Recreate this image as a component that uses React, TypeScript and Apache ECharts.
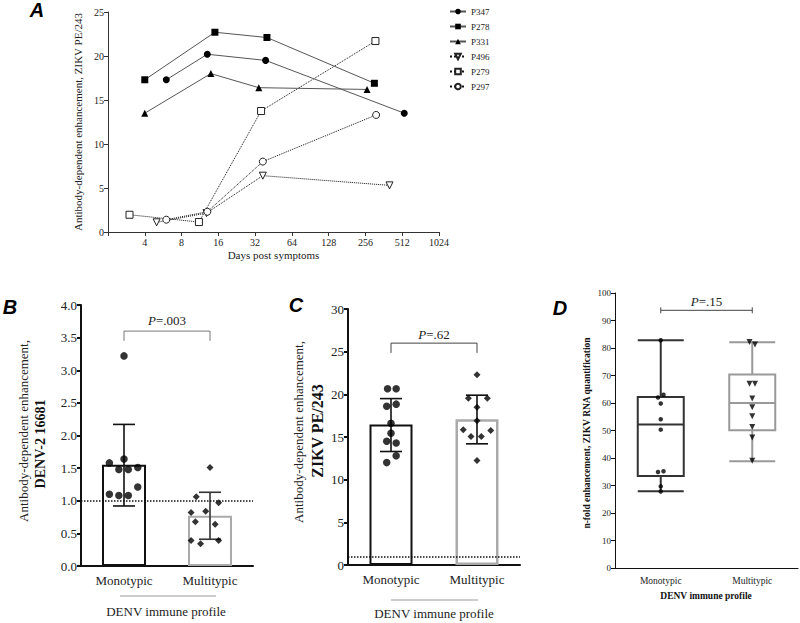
import React, { useEffect, useRef } from 'react';
import * as echarts from 'echarts';

// ---------- Panel A data ----------
const patients = ['P347', 'P278', 'P331', 'P496', 'P279', 'P297'];
const p347Days = [6, 13, 39, 532];
const p347Vals = [17.3, 20.2, 19.5, 13.5];
const p278Days = [4, 15, 40, 303];
const p278Vals = [17.3, 22.7, 22.1, 16.9];
const p331Days = [4, 13.9, 34.3, 264];
const p331Vals = [13.5, 18.0, 16.4, 16.2];
const p496Days = [5, 12.8, 37, 403];
const p496Vals = [1.1, 2.15, 6.4, 5.3];
const p279Days = [3, 11.1, 35.8, 309];
const p279Vals = [1.96, 1.13, 13.75, 21.7];
const p297Days = [6, 13, 37, 313];
const p297Vals = [1.4, 2.3, 8.0, 13.3];
const xTicksA = [4, 8, 16, 32, 64, 128, 256, 512, 1024];

// ---------- Panels B, C, D data ----------
const groups = ['Monotypic', 'Multitypic'];

const bMono = [1.58, 1.64, 1.48, 1.48, 1.51, 1.10, 1.08, 1.08, 1.21, 3.22];
const bMonoJitter = [-0.17, 0, -0.06, 0.05, 0.16, -0.17, -0.06, 0.05, 0.16, 0];
const bMulti = [1.51, 1.06, 0.97, 0.82, 0.84, 0.68, 0.64, 0.39, 0.34, 0.39];
const bMultiJitter = [0, -0.16, 0.1, -0.22, -0.05, -0.17, 0.06, -0.22, -0.11, 0.1];
const bMeans = [1.55, 0.77];
const bErrLow = [0.92, 0.41];
const bErrHigh = [2.17, 1.13];

const cMono = [20.65, 20.65, 18.6, 18.85, 16.6, 15.45, 14.5, 14.3, 12.0, 12.8];
const cMonoJitter = [-0.04, 0.06, -0.05, 0.06, 0, 0, -0.05, 0.06, -0.05, 0.06];
const cMulti = [22.3, 19.55, 19.55, 18.5, 16.9, 15.85, 15.75, 15.05, 15.05, 12.25];
const cMultiJitter = [0, -0.1, 0.12, 0, 0, -0.16, 0.16, -0.07, 0.05, 0];
const cMeans = [16.46, 17.09];
const cErrLow = [13.3, 14.2];
const cErrHigh = [19.5, 19.9];

const dMono = [82.8, 62.0, 63.0, 59.8, 54.1, 50.3, 34.9, 35.2, 29.7, 27.8];
const dMonoJitter = [0, -0.03, 0.03, 0, 0, 0, -0.03, 0.03, 0, 0];
const dMulti = [82.2, 81.3, 67.0, 67.0, 61.6, 58.5, 55.2, 51.3, 47.5, 39.0];
const dMultiJitter = [-0.03, 0.03, -0.03, 0.03, 0, 0, 0, 0, 0, 0];
const dMonoBox = [27.9, 33.45, 52.2, 62.2, 82.8];
const dMultiBox = [38.8, 50.06, 60.0, 70.4, 82.06];

const pB = '=.003';
const pC = '=.62';
const pD = '=.15';

const SERIF = '"Liberation Serif", "Times New Roman", serif';
const SANS = '"Liberation Sans", Arial, sans-serif';

function errorBarSeries(xi: number, yi: number, lows: number[], highs: number[], colors: string[], half: number) {
  return {
    type: 'custom',
    xAxisIndex: xi,
    yAxisIndex: yi,
    z: 4,
    silent: true,
    encode: { x: 0, y: [1, 2] },
    data: lows.map((l, i) => [i, l, highs[i]]),
    renderItem: (params: any, api: any) => {
      const idx = api.value(0);
      const lo = api.coord([idx, api.value(1)]);
      const hi = api.coord([idx, api.value(2)]);
      const stroke = colors[params.dataIndex];
      const st = { stroke, lineWidth: 1.6 };
      return {
        type: 'group',
        children: [
          { type: 'line', shape: { x1: lo[0], y1: lo[1], x2: hi[0], y2: hi[1] }, style: st },
          { type: 'line', shape: { x1: lo[0] - half, y1: lo[1], x2: lo[0] + half, y2: lo[1] }, style: st },
          { type: 'line', shape: { x1: hi[0] - half, y1: hi[1], x2: hi[0] + half, y2: hi[1] }, style: st },
        ],
      };
    },
  };
}

function bracketSeries(xi: number, yi: number, yLine: number, yLeg: number, yText: number, ptext: string, fontSize: number, color: string, capped: boolean) {
  return {
    type: 'custom',
    xAxisIndex: xi,
    yAxisIndex: yi,
    z: 5,
    silent: true,
    data: [[0, yLine]],
    renderItem: (params: any, api: any) => {
      const a = api.coord([0, yLine]);
      const b = api.coord([1, yLine]);
      const leg = api.coord([0, yLeg]);
      const t = api.coord([0, yText]);
      const st = { stroke: color, fill: null, lineWidth: 1 };
      const children: any[] = [];
      if (capped) {
        children.push({ type: 'line', shape: { x1: a[0], y1: a[1], x2: b[0], y2: b[1] }, style: st });
        children.push({ type: 'line', shape: { x1: a[0], y1: a[1] - 3, x2: a[0], y2: a[1] + 3 }, style: st });
        children.push({ type: 'line', shape: { x1: b[0], y1: b[1] - 3, x2: b[0], y2: b[1] + 3 }, style: st });
      } else {
        children.push({
          type: 'polyline',
          shape: { points: [[a[0], leg[1]], [a[0], a[1]], [b[0], b[1]], [b[0], leg[1]]] },
          style: st,
        });
      }
      children.push({
        type: 'text',
        x: (a[0] + b[0]) / 2,
        y: t[1],
        style: {
          text: '{i|P}' + ptext,
          align: 'center',
          verticalAlign: 'middle',
          fill: '#222',
          fontFamily: SERIF,
          fontSize,
          rich: { i: { fontStyle: 'italic', fontFamily: SERIF, fontSize, fill: '#222' } },
        },
      });
      return { type: 'group', children };
    },
  };
}

export default function App() {
  const ref = useRef<HTMLDivElement>(null);

  useEffect(() => {
    if (!ref.current) return;
    document.body.style.margin = '0';
    const chart = echarts.init(ref.current, undefined, { renderer: 'svg' });

    const aDays = [p347Days, p278Days, p331Days, p496Days, p279Days, p297Days];
    const aVals = [p347Vals, p278Vals, p331Vals, p496Vals, p279Vals, p297Vals];
    const aSymbols = ['circle', 'rect', 'triangle', 'triangle', 'rect', 'circle'];
    const aRotate = [0, 0, 0, 180, 0, 0];
    const aHollow = [false, false, false, true, true, true];
    const aSize = [7, 7, 7, 7, 7, 7];

    const lineSeries = patients.map((name, k) => ({
      name,
      type: 'line',
      xAxisIndex: 0,
      yAxisIndex: 0,
      data: aDays[k].map((d, i) => [d, aVals[k][i]]),
      symbol: aSymbols[k],
      symbolRotate: aRotate[k],
      symbolSize: aSize[k],
      showAllSymbol: true,
      z: aHollow[k] ? 3 : 4,
      lineStyle: aHollow[k]
        ? { color: '#111', width: 1, type: 'dotted' }
        : { color: '#555', width: 1, type: 'solid' },
      itemStyle: aHollow[k]
        ? { color: '#fff', borderColor: '#222', borderWidth: 1 }
        : { color: '#000', borderColor: '#000', borderWidth: 0 },
      emphasis: { disabled: true },
    }));

    const axisTxt = (size: number) => ({ fontFamily: SERIF, fontSize: size, color: '#222' });

    const catAxis = (gi: number, lw: number, fs: number, margin: number) => ({
      gridIndex: gi,
      type: 'category',
      data: groups,
      axisLine: { onZero: false, lineStyle: { color: '#111', width: lw } },
      axisTick: { alignWithLabel: true, length: 5, lineStyle: { color: '#111', width: lw } },
      axisLabel: { ...axisTxt(fs), margin },
      splitLine: { show: false },
    });
    const hiddenAxis = (gi: number) => ({
      gridIndex: gi, type: 'value', min: -0.5, max: 1.5, show: false,
      axisLine: { show: false, onZero: false }, splitLine: { show: false },
    });
    const valAxis = (gi: number, max: number, interval: number, lw: number, fs: number, fmt?: (v: number) => string) => ({
      gridIndex: gi,
      type: 'value',
      min: 0,
      max,
      interval,
      axisLine: { show: true, onZero: false, lineStyle: { color: '#111', width: lw } },
      axisTick: { show: true, length: 4, lineStyle: { color: '#111', width: lw } },
      axisLabel: { ...axisTxt(fs), margin: 4, formatter: fmt },
      splitLine: { show: false },
    });

    const option: any = {
      animation: false,
      backgroundColor: '#fff',
      grid: [
        { left: 108, top: 12, width: 331, height: 220 },
        { left: 81, top: 305, width: 172, height: 261 },
        { left: 348, top: 309, width: 172, height: 256 },
        { left: 615, top: 293, width: 183, height: 275 },
      ],
      legend: {
        data: patients,
        orient: 'vertical',
        left: 444,
        top: 2,
        itemWidth: 16,
        itemHeight: 7,
        itemGap: 6,
        textStyle: { fontFamily: SERIF, fontSize: 9, color: '#222' },
        selectedMode: false,
      },
      xAxis: [
        {
          gridIndex: 0,
          type: 'log',
          logBase: 2,
          min: 2,
          max: 1024,
          splitNumber: 10,
          axisLine: { onZero: false, lineStyle: { color: '#333', width: 1 } },
          axisTick: { show: true, length: 4, lineStyle: { color: '#333' } },
          axisLabel: {
            ...axisTxt(10),
            margin: 5,
            formatter: (v: number) => {
              const r = Math.round(v);
              return xTicksA.indexOf(r) >= 0 ? String(r) : '';
            },
          },
          splitLine: { show: false },
          name: 'Days post symptoms',
          nameLocation: 'middle',
          nameGap: 17,
          nameTextStyle: axisTxt(11),
        },
        catAxis(1, 2, 13, 8),
        hiddenAxis(1),
        catAxis(2, 2, 13, 8),
        hiddenAxis(2),
        catAxis(3, 1, 9.5, 8),
        hiddenAxis(3),
      ],
      yAxis: [
        {
          gridIndex: 0,
          type: 'value',
          min: 0,
          max: 25,
          interval: 5,
          axisLine: { show: true, onZero: false, lineStyle: { color: '#333', width: 1 } },
          axisTick: { show: true, length: 4, lineStyle: { color: '#333' } },
          axisLabel: { ...axisTxt(10), margin: 4 },
          splitLine: { show: false },
        },
        valAxis(1, 4, 0.5, 2, 13, (v: number) => v.toFixed(1)),
        valAxis(2, 30, 5, 2, 13),
        valAxis(3, 100, 10, 1, 9),
      ],
      series: [
        ...lineSeries,
        // Panel B
        {
          type: 'bar',
          xAxisIndex: 1,
          yAxisIndex: 1,
          barWidth: 44,
          z: 2,
          silent: true,
          data: bMeans.map((v, i) => ({
            value: v,
            itemStyle: { color: '#fff', borderColor: i === 0 ? '#111' : '#aaa', borderWidth: 2 },
          })),
          markLine: {
            silent: true,
            symbol: 'none',
            label: { show: false },
            lineStyle: { color: '#111', type: 'dotted', width: 1.5 },
            data: [{ yAxis: 1 }],
          },
        },
        errorBarSeries(1, 1, bErrLow, bErrHigh, ['#111', '#333'], 11),
        {
          type: 'scatter',
          xAxisIndex: 2,
          yAxisIndex: 1,
          z: 6,
          symbol: 'circle',
          symbolSize: 7.5,
          itemStyle: { color: '#000' },
          data: bMono.map((v, i) => [0 + bMonoJitter[i], v]),
        },
        {
          type: 'scatter',
          xAxisIndex: 2,
          yAxisIndex: 1,
          z: 6,
          symbol: 'diamond',
          symbolSize: 7,
          itemStyle: { color: '#000' },
          data: bMulti.map((v, i) => [1 + bMultiJitter[i], v]),
        },
        bracketSeries(1, 1, 3.6, 3.45, 3.77, pB, 13, '#777', false),
        // Panel C
        {
          type: 'bar',
          xAxisIndex: 3,
          yAxisIndex: 2,
          barWidth: 43,
          z: 2,
          silent: true,
          data: cMeans.map((v, i) => ({
            value: v,
            itemStyle: { color: '#fff', borderColor: i === 0 ? '#111' : '#aaa', borderWidth: i === 0 ? 2 : 2.5 },
          })),
          markLine: {
            silent: true,
            symbol: 'none',
            label: { show: false },
            lineStyle: { color: '#111', type: 'dotted', width: 1.5 },
            data: [{ yAxis: 1 }],
          },
        },
        errorBarSeries(3, 2, cErrLow, cErrHigh, ['#111', '#111'], 11),
        {
          type: 'scatter',
          xAxisIndex: 4,
          yAxisIndex: 2,
          z: 6,
          symbol: 'circle',
          symbolSize: 7.5,
          itemStyle: { color: '#000' },
          data: cMono.map((v, i) => [0 + cMonoJitter[i], v]),
        },
        {
          type: 'scatter',
          xAxisIndex: 4,
          yAxisIndex: 2,
          z: 6,
          symbol: 'diamond',
          symbolSize: 7,
          itemStyle: { color: '#000' },
          data: cMulti.map((v, i) => [1 + cMultiJitter[i], v]),
        },
        bracketSeries(3, 2, 26.0, 24.85, 27.0, pC, 13, '#444', false),
        // Panel D
        {
          type: 'boxplot',
          xAxisIndex: 5,
          yAxisIndex: 3,
          boxWidth: [46, 46],
          silent: true,
          z: 2,
          itemStyle: { color: '#fff', borderWidth: 2 },
          data: [
            { value: dMonoBox, itemStyle: { color: '#fff', borderColor: '#333', borderWidth: 2 } },
            { value: dMultiBox, itemStyle: { color: '#fff', borderColor: '#999', borderWidth: 2 } },
          ],
        },
        {
          type: 'scatter',
          xAxisIndex: 6,
          yAxisIndex: 3,
          z: 6,
          symbol: 'circle',
          symbolSize: 4.5,
          itemStyle: { color: '#000' },
          data: dMono.map((v, i) => [0 + dMonoJitter[i], v]),
        },
        {
          type: 'scatter',
          xAxisIndex: 6,
          yAxisIndex: 3,
          z: 6,
          symbol: 'triangle',
          symbolRotate: 180,
          symbolSize: 6,
          itemStyle: { color: '#000' },
          data: dMulti.map((v, i) => [1 + dMultiJitter[i], v]),
        },
        bracketSeries(5, 3, 93.7, 93.7, 96.8, pD, 13, '#444', true),
      ],
      graphic: [
        // panel letters
        { type: 'text', x: 37, y: 10, style: { text: 'A', font: 'italic bold 20px ' + SANS, fill: '#000', align: 'center', verticalAlign: 'middle' } },
        { type: 'text', x: 10, y: 307, style: { text: 'B', font: 'italic bold 20px ' + SANS, fill: '#000', align: 'center', verticalAlign: 'middle' } },
        { type: 'text', x: 296, y: 305, style: { text: 'C', font: 'italic bold 20px ' + SANS, fill: '#000', align: 'center', verticalAlign: 'middle' } },
        { type: 'text', x: 560, y: 308, style: { text: 'D', font: 'italic bold 20px ' + SANS, fill: '#000', align: 'center', verticalAlign: 'middle' } },
        // y axis names
        { type: 'text', x: 78, y: 122, rotation: Math.PI / 2, style: { text: 'Antibody-dependent enhancement, ZIKV PE/243', font: '11px ' + SERIF, fill: '#222', align: 'center', verticalAlign: 'middle' } },
        { type: 'text', x: 23, y: 431, rotation: Math.PI / 2, style: { text: 'Antibody-dependent enhancement,', font: '13px ' + SERIF, fill: '#222', align: 'center', verticalAlign: 'middle' } },
        { type: 'text', x: 40, y: 444, rotation: Math.PI / 2, style: { text: 'DENV-2 16681', font: 'bold 14px ' + SERIF, fill: '#111', align: 'center', verticalAlign: 'middle' } },
        { type: 'text', x: 298, y: 432, rotation: Math.PI / 2, style: { text: 'Antibody-dependent enhancement,', font: '13px ' + SERIF, fill: '#222', align: 'center', verticalAlign: 'middle' } },
        { type: 'text', x: 317, y: 431, rotation: Math.PI / 2, style: { text: 'ZIKV PE/243', font: 'bold 16px ' + SERIF, fill: '#111', align: 'center', verticalAlign: 'middle' } },
        { type: 'text', x: 587, y: 433, rotation: Math.PI / 2, style: { text: 'n-fold enhancement, ZIKV RNA quantification', font: 'bold 9.5px ' + SERIF, fill: '#111', align: 'center', verticalAlign: 'middle' } },
        // group labels below x axes
        { type: 'line', shape: { x1: 120, y1: 596, x2: 216, y2: 596 }, style: { stroke: '#999', lineWidth: 1 } },
        { type: 'text', x: 166, y: 611, style: { text: 'DENV immune profile', font: '13px ' + SERIF, fill: '#222', align: 'center', verticalAlign: 'middle' } },
        { type: 'line', shape: { x1: 391, y1: 600, x2: 478, y2: 600 }, style: { stroke: '#999', lineWidth: 1 } },
        { type: 'text', x: 434, y: 613, style: { text: 'DENV immune profile', font: '13px ' + SERIF, fill: '#222', align: 'center', verticalAlign: 'middle' } },
        { type: 'text', x: 706, y: 596, style: { text: 'DENV immune profile', font: 'bold 9.5px ' + SERIF, fill: '#111', align: 'center', verticalAlign: 'middle' } },
      ],
    };

    chart.setOption(option);
    return () => chart.dispose();
  }, []);

  return <div ref={ref} style={{ width: 800, height: 623 }} />;
}
